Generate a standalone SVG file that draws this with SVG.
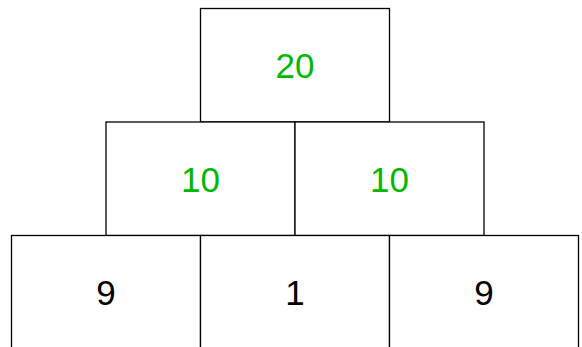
<svg xmlns="http://www.w3.org/2000/svg" width="582" height="347" viewBox="0 0 582 347">
<style>
.box{fill:#fff;stroke:#000;stroke-width:1.3}
.t{font-family:"Liberation Sans",Arial,sans-serif;font-size:35px;text-anchor:middle}
.g{fill:#00B800}
.k{fill:#000}
</style>
<rect width="582" height="347" fill="#fff"/>
<g id="top"><rect class="box" x="200.5" y="8.5" width="189" height="113.5"/><text class="t g" x="295" y="78">20</text></g>
<g id="mid-left"><rect class="box" x="106" y="122" width="189" height="113.5"/><text class="t g" x="200.5" y="192">10</text></g>
<g id="mid-right"><rect class="box" x="295" y="122" width="189" height="113.5"/><text class="t g" x="389.5" y="192">10</text></g>
<g id="bot-left"><rect class="box" x="11.5" y="235.5" width="189" height="113.5"/><text class="t k" x="106" y="305">9</text></g>
<g id="bot-mid"><rect class="box" x="200.5" y="235.5" width="189" height="113.5"/><text class="t k" x="295" y="305">1</text></g>
<g id="bot-right"><rect class="box" x="389.5" y="235.5" width="189" height="113.5"/><text class="t k" x="484" y="305">9</text></g>
<g id="connectors"></g>
</svg>
